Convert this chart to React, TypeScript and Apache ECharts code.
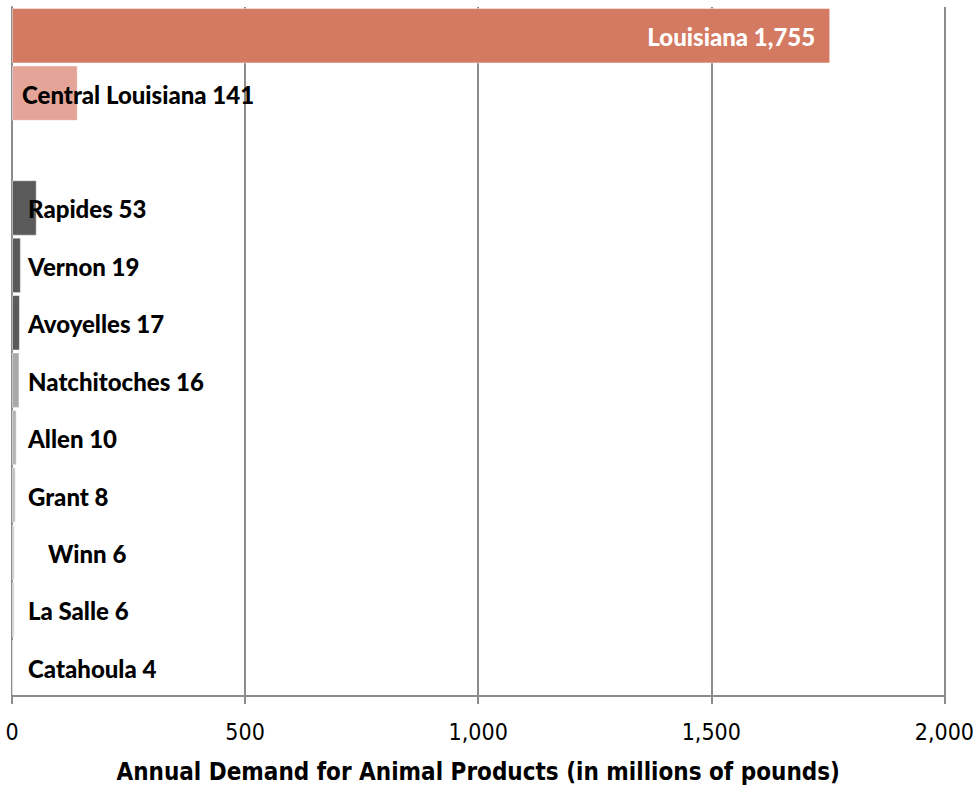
import React, { useEffect, useRef } from "react";
import * as echarts from "echarts";

const categories = [
  "Louisiana",
  "Central Louisiana",
  "",
  "Rapides",
  "Vernon",
  "Avoyelles",
  "Natchitoches",
  "Allen",
  "Grant",
  "Winn",
  "La Salle",
  "Catahoula",
];
const values: (number | null)[] = [1755, 141, null, 53, 19, 17, 16, 10, 8, 6, 6, 4];
const barColors = [
  "#d47a62",
  "#e4a598",
  "#ffffff",
  "#5a5a5a",
  "#5a5a5a",
  "#5a5a5a",
  "#a9a9a9",
  "#b4b4b4",
  "#c0c0c0",
  "#d0d0d0",
  "#d8d8d8",
  "#f0f0f0",
];
const tickValues = [0, 500, 1000, 1500, 2000];

const fmt = (v: number) => v.toLocaleString("en-US");

export default function App() {
  const ref = useRef<HTMLDivElement>(null);
  useEffect(() => {
    if (!ref.current) return;
    const chart = echarts.init(ref.current, undefined, { renderer: "svg" });
    const labelFont = "Lato, 'DejaVu Sans', sans-serif";
    const data = categories.map((c, i) => {
      const v = values[i];
      if (v === null) return { value: null };
      let label: any = {
        show: true,
        position: "insideLeft",
        distance: 16,
        color: "#000",
      };
      if (i === 0) label = { show: true, position: "insideRight", distance: 15, color: "#fff" };
      if (c === "Central Louisiana") label.distance = 10;
      if (c === "Winn") label.distance = 36;
      return {
        value: v,
        itemStyle: { color: barColors[i] },
        label,
      };
    });
    chart.setOption({
      animation: false,
      grid: { left: 12, right: 31, top: 7, bottom: 83, containLabel: false },
      xAxis: {
        type: "value",
        min: tickValues[0],
        max: tickValues[tickValues.length - 1],
        interval: 500,
        axisLine: { show: true, lineStyle: { color: "#8c8c8c", width: 2 } },
        axisTick: { show: true, length: 8, lineStyle: { color: "#8c8c8c", width: 2 } },
        splitLine: { show: true, lineStyle: { color: "#8c8c8c", width: 2 } },
        axisLabel: {
          margin: 24,
          fontSize: 23,
          color: "#000",
          fontFamily: "'DejaVu Sans Condensed', sans-serif",
          formatter: (v: number) => fmt(v),
        },
        name: "Annual Demand for Animal Products (in millions of pounds)",
        nameLocation: "middle",
        nameGap: 64,
        nameTextStyle: {
          fontSize: 24,
          fontWeight: "bold",
          color: "#000",
          fontFamily: "'DejaVu Sans Condensed', 'DejaVu Sans', sans-serif",
        },
      },
      yAxis: {
        type: "category",
        data: categories,
        inverse: true,
        axisLine: { show: true, lineStyle: { color: "#8c8c8c", width: 2 } },
        axisTick: { show: false },
        axisLabel: { show: false },
        splitLine: { show: false },
      },
      series: [
        {
          type: "bar",
          data,
          barCategoryGap: "3.5%",
          itemStyle: { borderColor: "rgba(255,255,255,0.45)", borderWidth: 1 },
          label: {
            show: true,
            fontSize: 24,
            fontWeight: 900,
            fontFamily: labelFont,
            offset: [0, 1],
            formatter: (p: any) => `${p.name} ${fmt(p.value)}`,
          },
        },
      ],
    });
    return () => chart.dispose();
  }, []);
  return <div ref={ref} style={{ width: 977, height: 789, position: "absolute", left: 0, top: 0 }} />;
}
